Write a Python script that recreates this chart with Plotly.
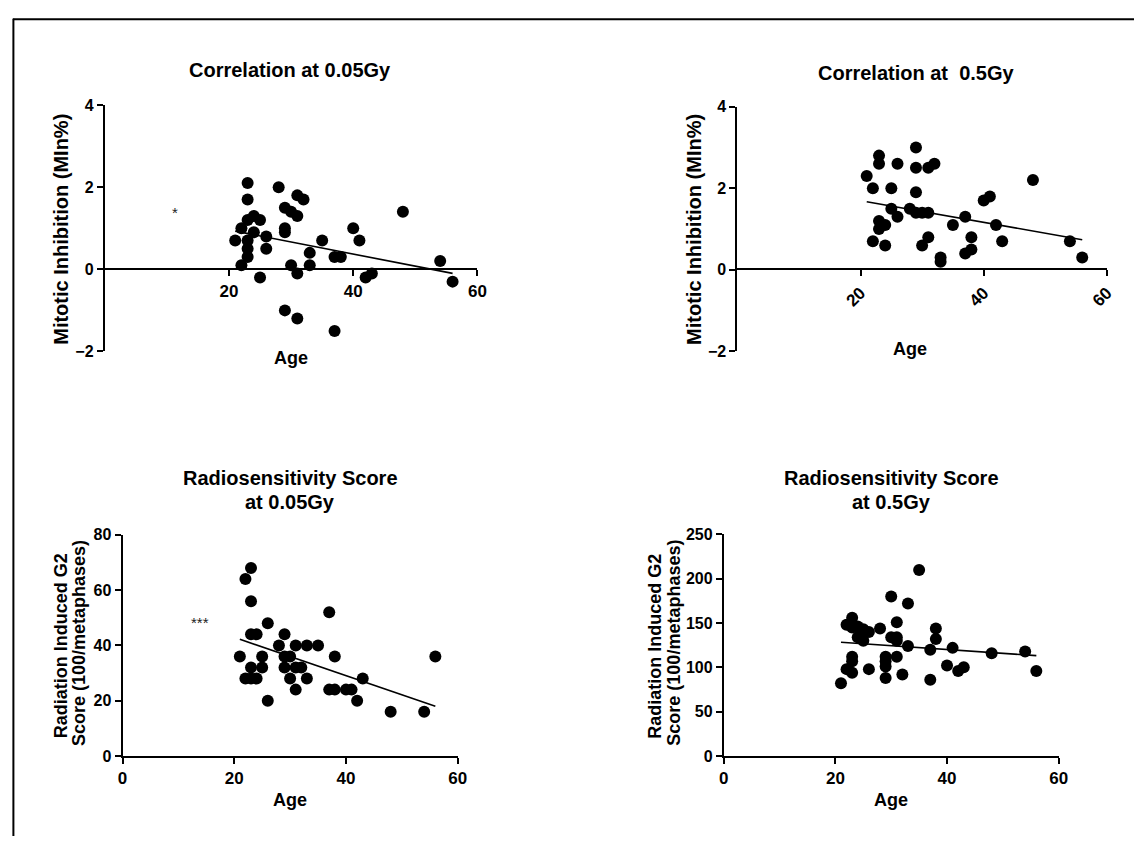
import plotly.graph_objects as go

W, H = 1143, 845

# ---------------- data ----------------
# Panel 1: Mitotic inhibition at 0.05Gy vs age
p1_age = [23, 23, 23, 24, 25, 22, 24, 21, 23, 26, 23, 26, 23, 22, 25,
          28, 29, 30, 31, 31, 32, 29, 29, 30, 31, 33, 33, 35, 37, 38,
          40, 41, 42, 43, 48, 54, 56, 29, 31, 37]
p1_mi = [2.1, 1.7, 1.2, 1.3, 1.2, 1.0, 0.9, 0.7, 0.7, 0.8, 0.5, 0.5, 0.3, 0.1, -0.2,
         2.0, 1.5, 1.4, 1.3, 1.8, 1.7, 1.0, 0.9, 0.1, -0.1, 0.4, 0.1, 0.7, 0.3, 0.3,
         1.0, 0.7, -0.2, -0.1, 1.4, 0.2, -0.3, -1.0, -1.2, -1.5]
p1_fit_age = [21, 56]
p1_fit_mi = [0.93, -0.10]

# Panel 2: Mitotic inhibition at 0.5Gy vs age
p2_age = [21, 22, 22, 23, 23, 23, 23, 24, 24, 25, 25, 26, 26, 28, 29,
          29, 29, 29, 30, 31, 31, 32, 30, 31, 33, 33, 35, 37, 37, 38,
          38, 40, 41, 42, 43, 48, 54, 56]
p2_mi = [2.3, 2.0, 0.7, 2.8, 2.6, 1.2, 1.0, 1.1, 0.6, 2.0, 1.5, 2.6, 1.3, 1.5, 3.0,
         2.5, 1.9, 1.4, 1.4, 1.4, 2.5, 2.6, 0.6, 0.8, 0.3, 0.2, 1.1, 1.3, 0.4, 0.5,
         0.8, 1.7, 1.8, 1.1, 0.7, 2.2, 0.7, 0.3]
p2_fit_age = [21, 56]
p2_fit_mi = [1.67, 0.74]

# Panel 3: Radiosensitivity score at 0.05Gy vs age
p3_age = [23, 22, 23, 26, 23, 24, 21, 25, 23, 25, 22, 23, 24, 26, 28,
          29, 29, 30, 29, 30, 31, 31, 32, 31, 33, 33, 35, 37, 38, 37,
          38, 40, 41, 42, 43, 48, 54, 56]
p3_score = [68, 64, 56, 48, 44, 44, 36, 36, 32, 32, 28, 28, 28, 20, 40,
            44, 36, 36, 32, 28, 40, 32, 32, 24, 40, 28, 40, 52, 36, 24,
            24, 24, 24, 20, 28, 16, 16, 36]
p3_fit_age = [21, 56]
p3_fit_score = [42.2, 18.0]

# Panel 4: Radiosensitivity score at 0.5Gy vs age
p4_age = [21, 22, 22, 23, 23, 23, 23, 23, 24, 24, 25, 25, 26, 26, 28,
          29, 29, 29, 29, 30, 30, 31, 31, 31, 31, 32, 33, 33, 35, 37,
          37, 38, 38, 40, 41, 42, 43, 48, 54, 56]
p4_score = [82, 148, 98, 156, 145, 112, 107, 94, 146, 134, 143, 130, 140, 98, 144,
            112, 107, 101, 88, 180, 134, 151, 134, 130, 112, 92, 172, 124, 210, 120,
            86, 144, 132, 102, 122, 96, 100, 116, 118, 96]
p4_fit_age = [21, 56]
p4_fit_score = [128.3, 113.2]

x_ticks_top = [20, 40, 60]
x_ticks_bottom = [0, 20, 40, 60]
y_ticks_mi = [-2, 0, 2, 4]
y_ticks_p3 = [0, 20, 40, 60, 80]
y_ticks_p4 = [0, 50, 100, 150, 200, 250]

titles = ["Correlation at 0.05Gy", "Correlation at\u00a0 0.5Gy",
          "Radiosensitivity Score", "at 0.05Gy",
          "Radiosensitivity Score", "at 0.5Gy"]
x_title = "Age"
y_title_mi = "Mitotic Inhibition (MIn%)"
y_title_g2 = ["Radiation Induced G2", "Score (100/metaphases)"]
sig_marks = ["*", "***"]

# ---------------- helpers ----------------
def fx(px):
    return px / W

def fy(py):
    return 1 - py / H

FONT = "Arial, Liberation Sans, sans-serif"

fig = go.Figure()

def add_panel(n, xs, ys, fxs, fys):
    xa = "x" if n == 1 else f"x{n}"
    ya = "y" if n == 1 else f"y{n}"
    fig.add_trace(go.Scatter(x=xs, y=ys, mode="markers", xaxis=xa, yaxis=ya,
                             marker=dict(color="black", size=12, line=dict(width=0)),
                             hoverinfo="x+y"))
    fig.add_trace(go.Scatter(x=fxs, y=fys, mode="lines", xaxis=xa, yaxis=ya,
                             line=dict(color="black", width=1.6), hoverinfo="skip"))

add_panel(1, p1_age, p1_mi, p1_fit_age, p1_fit_mi)
add_panel(2, p2_age, p2_mi, p2_fit_age, p2_fit_mi)
add_panel(3, p3_age, p3_score, p3_fit_age, p3_fit_score)
add_panel(4, p4_age, p4_score, p4_fit_age, p4_fit_score)

axis_common = dict(showline=True, linecolor="black", linewidth=2, ticks="outside",
                   ticklen=6, tickwidth=2, tickcolor="black", showgrid=False,
                   zeroline=False, fixedrange=True)
xfont = dict(family=FONT, size=17, color="black", weight="bold")
yfont = dict(family=FONT, size=16, color="black", weight="bold")

fig.update_layout(
    xaxis=dict(axis_common, domain=[fx(101), fx(478.3)], range=[0, 60],
               tickvals=x_ticks_top, anchor="free", position=fy(266.7), tickfont=xfont),
    yaxis=dict(axis_common, domain=[fy(350.5), fy(99)], range=[-2, 4],
               tickvals=y_ticks_mi, anchor="x", tickfont=yfont),
    xaxis2=dict(axis_common, domain=[fx(741.5), fx(1115.5)], range=[0, 60],
                tickvals=x_ticks_top, anchor="free", position=fy(266.7),
                tickangle=-45, tickfont=xfont),
    yaxis2=dict(axis_common, domain=[fy(350.5), fy(100.7)], range=[-2, 4],
                tickvals=y_ticks_mi, anchor="x2", tickfont=yfont),
    xaxis3=dict(axis_common, domain=[fx(119), fx(458.3)], range=[0, 60],
                tickvals=x_ticks_bottom, anchor="y3", tickfont=xfont),
    yaxis3=dict(axis_common, domain=[fy(763.3), fy(537.7)], range=[0, 80],
                tickvals=y_ticks_p3, anchor="x3", tickfont=yfont),
    xaxis4=dict(axis_common, domain=[fx(727.7), fx(1066.7)], range=[0, 60],
                tickvals=x_ticks_bottom, anchor="y4", tickfont=xfont),
    yaxis4=dict(axis_common, domain=[fy(763.3), fy(537.3)], range=[0, 250],
                tickvals=y_ticks_p4, anchor="x4", tickfont=yfont),
    width=W, height=H, margin=dict(l=0, r=0, t=0, b=0),
    paper_bgcolor="white", plot_bgcolor="rgba(0,0,0,0)", showlegend=False,
    font=dict(family=FONT, color="black"),
)

# Frame around the figure (top and left edges visible)
fig.add_shape(type="line", xref="paper", yref="paper", x0=fx(8), x1=fx(1143),
              y0=fy(11.5), y1=fy(11.5), line=dict(color="black", width=2))
fig.add_shape(type="line", xref="paper", yref="paper", x0=fx(8.5), x1=fx(8.5),
              y0=fy(11), y1=fy(845), line=dict(color="black", width=2))

def ann(text, x, y, size, bold=True, angle=0):
    fig.add_annotation(text=text, x=fx(x), y=fy(y), xref="paper", yref="paper",
                       showarrow=False, xanchor="center", yanchor="middle",
                       textangle=angle,
                       font=dict(family=FONT, size=size, color="black",
                                 weight="bold" if bold else "normal"))

# Titles
ann(titles[0], 289, 63, 20)
ann(titles[1], 922, 66, 20)
ann(titles[2], 289, 480, 20)
ann(titles[3], 289, 504, 20)
ann(titles[4], 897, 480, 20)
ann(titles[5], 897, 504, 20)

# Axis titles
ann(x_title, 290, 357, 18)
ann(x_title, 916, 348, 18)
ann(x_title, 289, 808, 18)
ann(x_title, 897, 808, 18)
ann(y_title_mi, 57, 226, 20, angle=-90)
ann(y_title_mi, 698, 226, 20, angle=-90)
ann(y_title_g2[0], 57, 651, 18, angle=-90)
ann(y_title_g2[1], 75, 648, 18, angle=-90)
ann(y_title_g2[0], 658, 651, 18, angle=-90)
ann(y_title_g2[1], 677, 648, 18, angle=-90)

# Significance marks (data coordinates)
fig.add_annotation(text=sig_marks[0], x=11.3, y=1.38, xref="x", yref="y",
                   showarrow=False, font=dict(family=FONT, size=15, color="#222"))
fig.add_annotation(text=sig_marks[1], x=13.8, y=48.3, xref="x3", yref="y3",
                   showarrow=False, font=dict(family=FONT, size=15, color="#222"))

fig.write_html("out.html")
